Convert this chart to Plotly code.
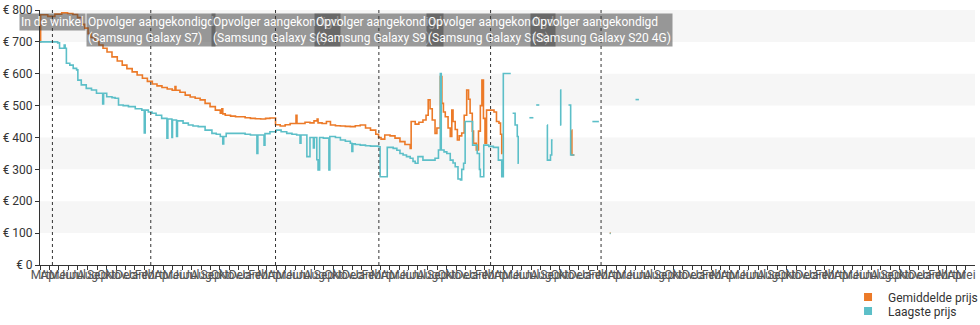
import plotly.graph_objects as go
import pandas as pd

# ---------------- data ----------------
month_labels = ["Jan", "Feb", "Mrt", "Apr", "Mei", "Jun", "Jul", "Aug", "Sep", "Okt", "Nov", "Dec"]

event_dates = ["2015-04-10", "2016-02-21", "2017-03-29", "2018-02-25", "2019-02-20", "2020-02-11"]
event_labels = [
    "In de winkel",
    "Opvolger aangekondigd<br>(Samsung Galaxy S7)",
    "Opvolger aangekondigd<br>(Samsung Galaxy S8)",
    "Opvolger aangekondigd<br>(Samsung Galaxy S9)",
    "Opvolger aangekondigd<br>(Samsung Galaxy S10)",
    "Opvolger aangekondigd<br>(Samsung Galaxy S20 4G)",
]

avg_dates = [
    "2015-03-01", "2015-03-03", "2015-03-26", "2015-04-18", "2015-05-10", "2015-05-29", "2015-06-15",
    "2015-06-30", "2015-07-14", "2015-07-23", "2015-08-03", "2015-08-12", "2015-08-25", "2015-09-07",
    "2015-09-20", "2015-10-03", "2015-10-19", "2015-11-05", "2015-11-21", "2015-12-06", "2015-12-23",
    "2016-01-08", "2016-01-25", "2016-02-10", "2016-02-26", "2016-03-12", "2016-03-28", "2016-04-14",
    "2016-04-30", "2016-05-09", "2016-05-12", "2016-05-25", "2016-06-11", "2016-06-27", "2016-07-13",
    "2016-07-29", "2016-08-14", "2016-08-30", "2016-09-16", "2016-10-02", "2016-10-07", "2016-10-10",
    "2016-10-18", "2016-11-04", "2016-11-20", "2016-12-05", "2016-12-21", "2017-01-07", "2017-01-23",
    "2017-02-09", "2017-02-25", "2017-03-11", "2017-03-29", "2017-04-13", "2017-04-29", "2017-05-15",
    "2017-06-03", "2017-06-06", "2017-07-02", "2017-07-18", "2017-07-31", "2017-08-10", "2017-08-13",
    "2017-08-26", "2017-09-09", "2017-09-22", "2017-10-08", "2017-10-24", "2017-11-09", "2017-11-25",
    "2017-12-11", "2017-12-27", "2018-01-13", "2018-01-29", "2018-02-15", "2018-02-24", "2018-03-04",
    "2018-03-16", "2018-04-02", "2018-04-18", "2018-05-04", "2018-05-20", "2018-06-06", "2018-06-09",
    "2018-06-22", "2018-07-04", "2018-07-17", "2018-07-27", "2018-08-03", "2018-08-09", "2018-08-16",
    "2018-08-25", "2018-08-31", "2018-09-11", "2018-09-16", "2018-09-21", "2018-09-27", "2018-10-06",
    "2018-10-13", "2018-10-18", "2018-10-22", "2018-10-29", "2018-11-05", "2018-11-11", "2018-11-19",
    "2018-11-27", "2018-12-05", "2018-12-11", "2018-12-16", "2018-12-23", "2018-12-27", "2019-01-05",
    "2019-01-12", "2019-01-18", "2019-01-23", "2019-01-28", "2019-02-02", "2019-02-07", "2019-03-03",
    "2019-03-11", "2019-03-19", "2019-03-24", "2019-03-28", "2019-03-30", "2019-03-31",
    "2019-11-08", "2019-11-09", "2019-11-17", "2019-11-18",
    "2020-03-10", "2020-03-13", "2020-03-14",
]
avg_prices = [
    700, 785, 780, 787, 791, 789, 786,
    776, 755, 743, 726, 714, 702, 690,
    680, 668, 653, 640, 627, 616, 606,
    596, 586, 576, 568, 562, 557, 552,
    548, 560, 548, 542, 533, 527, 523,
    518, 507, 497, 486, 476, 490, 474,
    470, 467, 465, 465, 462, 460, 459,
    458, 460, 461, 440, 436, 440, 444,
    470, 444, 448, 446, 452, 458, 446,
    444, 450, 439, 437, 436, 435, 434,
    437, 439, 430, 423, 410, 400, 395,
    408, 405, 398, 387, 378, 366, 450,
    442, 448, 455, 470, 518, 490, 455,
    413, 430, 591, 507, 480, 465, 430,
    403, 486, 450, 425, 392, 405, 414,
    470, 549, 520, 476, 420, 382, 361,
    420, 500, 580, 460, 382, 486, 480,
    450, 445, 410, 350, 350, None,
    423, 345, 345, None,
    100, 100, None,
]

low_dates = [
    "2015-03-01", "2015-04-27", "2015-05-03", "2015-05-18", "2015-05-21", "2015-05-25", "2015-06-05",
    "2015-06-16", "2015-06-27", "2015-07-01", "2015-07-12", "2015-07-28", "2015-08-14", "2015-08-30",
    "2015-09-19", "2015-09-22", "2015-10-02", "2015-10-19", "2015-10-29", "2015-11-09", "2015-11-24",
    "2015-12-11", "2016-01-02", "2016-01-23", "2016-01-31", "2016-02-03", "2016-02-13", "2016-02-25",
    "2016-03-09", "2016-03-27", "2016-04-13", "2016-04-16", "2016-04-29", "2016-05-01", "2016-05-14",
    "2016-05-17", "2016-06-04", "2016-06-21", "2016-07-06", "2016-07-23", "2016-08-14", "2016-09-05",
    "2016-09-19", "2016-10-02", "2016-10-10", "2016-10-13", "2016-10-21", "2016-12-21", "2017-01-07",
    "2017-01-28", "2017-01-31", "2017-02-20", "2017-02-23", "2017-03-11", "2017-03-31", "2017-04-16",
    "2017-05-04", "2017-05-21", "2017-06-05", "2017-06-16", "2017-06-19", "2017-07-08", "2017-07-18",
    "2017-07-29", "2017-08-01", "2017-08-09", "2017-08-13", "2017-08-18", "2017-08-30", "2017-09-17",
    "2017-09-20", "2017-10-08", "2017-10-24", "2017-11-09", "2017-11-25", "2017-11-30", "2017-12-03",
    "2017-12-11", "2017-12-27", "2018-01-13", "2018-01-29", "2018-02-24", "2018-03-01", "2018-03-24",
    "2018-04-12", "2018-04-24", "2018-05-04", "2018-05-14", "2018-05-25", "2018-06-06", "2018-06-15",
    "2018-06-22", "2018-07-01", "2018-07-17", "2018-08-25", "2018-09-05", "2018-09-11", "2018-09-14",
    "2018-09-23", "2018-10-02", "2018-10-13", "2018-10-22", "2018-10-29", "2018-11-07", "2018-11-15",
    "2018-11-19", "2018-11-25", "2018-11-30", "2018-12-24", "2019-01-08", "2019-01-15", "2019-01-18",
    "2019-01-29", "2019-02-14", "2019-03-01", "2019-03-17", "2019-03-28", "2019-04-02", "2019-04-26",
    "2019-04-27",
    "2019-05-02", "2019-05-10", "2019-05-17", "2019-05-20", "2019-05-22", "2019-05-23",
    "2019-06-25", "2019-07-08", "2019-07-09",
    "2019-07-17", "2019-07-27", "2019-07-28",
    "2019-08-21", "2019-08-22", "2019-09-01", "2019-09-05", "2019-09-08", "2019-09-09",
    "2019-10-02", "2019-10-04", "2019-10-06", "2019-10-07",
    "2019-10-29", "2019-11-05", "2019-11-17", "2019-11-18",
    "2020-01-14", "2020-02-04", "2020-02-05",
    "2020-03-10", "2020-03-13", "2020-03-14",
    "2020-06-01", "2020-06-12",
]
low_prices = [
    700, 697, 680, 690, 680, 633, 627,
    617, 612, 580, 565, 554, 549, 539,
    505, 539, 528, 525, 523, 502, 500,
    497, 490, 486, 414, 486, 480, 476,
    470, 460, 398, 458, 400, 455, 403,
    452, 445, 439, 436, 434, 423, 413,
    410, 403, 380, 403, 413, 410, 408,
    350, 408, 376, 412, 418, 423, 418,
    413, 410, 408, 382, 408, 340, 400,
    367, 400, 330, 298, 400, 398, 298,
    403, 400, 392, 388, 382, 356, 380,
    378, 376, 374, 373, 371, 277, 369,
    366, 360, 350, 345, 340, 335, 325,
    319, 340, 329, 335, 361, 601, 361,
    355, 350, 329, 320, 308, 270, 267,
    300, 319, 450, 376, 350, 300, 277,
    376, 372, 369, 329, 277, 601, 601,
    None,
    476, 439, 403, 319, 319, None,
    462, 462, None,
    502, 502, None,
    439, 329, 345, 392, 392, None,
    549, 439, 439, None,
    502, 345, 345, None,
    450, 450, None,
    99, 99, None,
    519, 519,
]

assert len(avg_dates) == len(avg_prices)
assert len(low_dates) == len(low_prices)

# ---------------- styling ----------------
ORANGE = "#ec7a28"
TEAL = "#5cbfc8"
FONT = "Roboto"

tick_dates = pd.date_range("2015-03-01", "2023-05-01", freq="MS")
tick_vals = [d.strftime("%Y-%m-%d") for d in tick_dates]
tick_text = [month_labels[d.month - 1] for d in tick_dates]

fig = go.Figure()

fig.add_trace(go.Scatter(
    x=avg_dates, y=avg_prices, mode="lines", line=dict(color=ORANGE, width=1.6, shape="hv"),
    connectgaps=False, showlegend=False, name="Gemiddelde prijs",
))
fig.add_trace(go.Scatter(
    x=low_dates, y=low_prices, mode="lines", line=dict(color=TEAL, width=1.6, shape="hv"),
    connectgaps=False, showlegend=False, name="Laagste prijs",
))
# legend entries with square swatches
fig.add_trace(go.Scatter(
    x=[None], y=[None], mode="markers", name="Gemiddelde prijs",
    marker=dict(symbol="square", size=8, color=ORANGE), legend="legend",
))
fig.add_trace(go.Scatter(
    x=[None], y=[None], mode="markers", name="Laagste prijs",
    marker=dict(symbol="square", size=8, color=TEAL), legend="legend2",
))

shapes = []
# alternating bands
for lo in (100, 300, 500, 700):
    shapes.append(dict(type="rect", xref="paper", yref="y", x0=0, x1=1, y0=lo, y1=lo + 100,
                       fillcolor="#f6f6f6", line=dict(width=0), layer="below"))
# event lines
for d in event_dates:
    shapes.append(dict(type="line", xref="x", yref="paper", x0=d, x1=d, y0=0, y1=1,
                       line=dict(color="#333333", width=1, dash="dot"), layer="above"))

annotations = []
for d, t in zip(event_dates, event_labels):
    annotations.append(dict(
        x=d, xref="x", y=1, yref="paper", xanchor="center", yanchor="top", yshift=-3,
        text=t, showarrow=False, align="left",
        font=dict(family=FONT, size=12, color="white"),
        bgcolor="rgba(59,59,59,0.51)", borderpad=1,
    ))

fig.update_layout(
    width=980, height=325,
    margin=dict(l=40, r=5, t=10, b=60, autoexpand=False),
    paper_bgcolor="white", plot_bgcolor="white",
    font=dict(family=FONT, size=12, color="#333333"),
    shapes=shapes, annotations=annotations,
    legend=dict(x=0.8642, xanchor="left", y=-0.1255, yanchor="middle",
                font=dict(family=FONT, size=12, color="#333333"), bgcolor="rgba(0,0,0,0)"),
    legend2=dict(x=0.8642, xanchor="left", y=-0.1804, yanchor="middle",
                 font=dict(family=FONT, size=12, color="#333333"), bgcolor="rgba(0,0,0,0)"),
    hovermode=False,
)
fig.update_xaxes(
    type="date", range=["2015-03-01", "2023-05-31"],
    tickmode="array", tickvals=tick_vals, ticktext=tick_text, tickangle=0,
    ticks="outside", ticklen=4, tickcolor="#333333", ticklabelstandoff=-5,
    showline=True, linecolor="#333333", linewidth=1,
    showgrid=False, zeroline=False,
    tickfont=dict(family=FONT, size=12, color="#555555"),
)
fig.update_yaxes(
    range=[0, 800], tickmode="linear", tick0=0, dtick=100, tickprefix="€ ",
    ticks="outside", ticklen=4, tickcolor="#333333",
    showline=True, linecolor="#333333", linewidth=1,
    showgrid=False, zeroline=False,
    tickfont=dict(family=FONT, size=12, color="#333333"),
)

fig.write_html("out.html")
